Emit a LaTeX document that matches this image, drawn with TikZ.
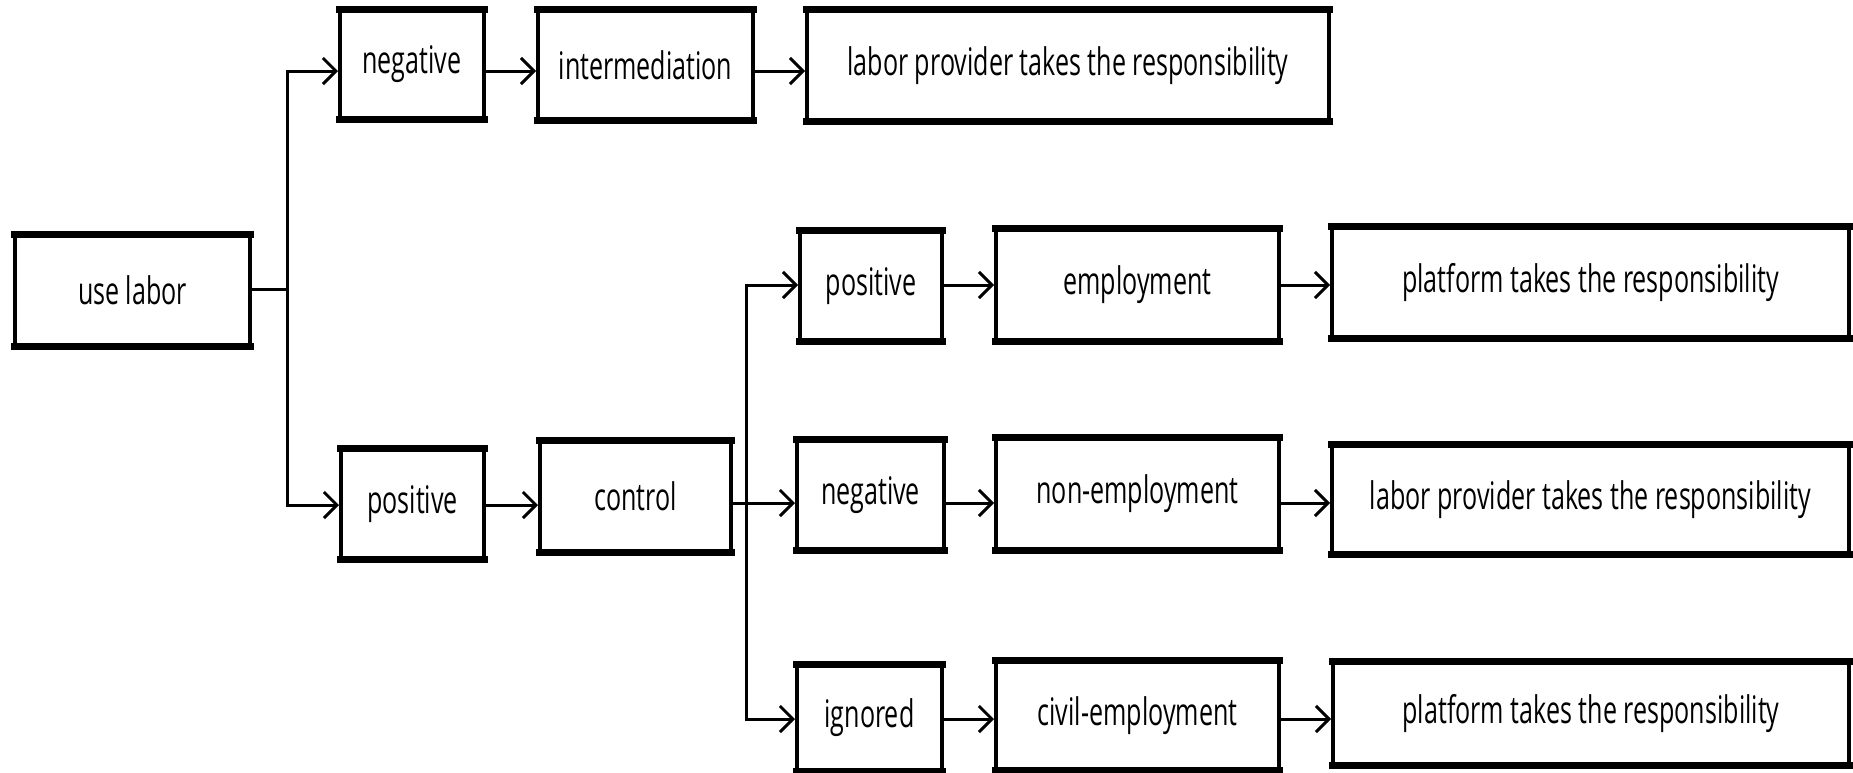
\documentclass[tikz,border=0pt]{standalone}
\usepackage{fontspec}
\setmainfont{Open Sans}[FakeStretch=0.66]
\usetikzlibrary{arrows.meta}
\begin{document}
\begin{tikzpicture}[x=1pt,y=-1pt,
  box/.style={draw, line width=4pt, inner sep=0pt, font=\fontsize{38pt}{45pt}\selectfont},
  conn/.style={line width=3pt},
  arr/.style={conn, -{Straight Barb[length=13pt,width=26pt,line width=3pt]}}]
\fill[white] (0,0) rectangle (1853,772);
\useasboundingbox (0,0) rectangle (1853,772);
% boxes
\node[box, minimum width=235pt, minimum height=111pt] (use) at (132.5,290.5) {use labor};
\node[box, minimum width=144pt, minimum height=109pt] (neg1) at (412,64.5) {negative};
\node[box, minimum width=215pt, minimum height=110pt] (inter) at (645.5,65) {intermediation};
\node[box, minimum width=522pt, minimum height=111pt] (lab1) at (1068,65.5) {labor provider takes the responsibility};
\node[box, minimum width=143pt, minimum height=110pt] (pos1) at (412.5,504) {positive};
\node[box, minimum width=191pt, minimum height=111pt] (ctrl) at (635.5,496.5) {control};
\node[box, minimum width=142pt, minimum height=110pt] (pos2) at (871,286) {positive};
\node[box, minimum width=283pt, minimum height=112pt] (emp) at (1137.5,285) {employment};
\node[box, minimum width=517pt, minimum height=111pt] (plat2) at (1590.5,282.5) {platform takes the responsibility};
\node[box, minimum width=147pt, minimum height=110pt] (neg2) at (870.5,495) {negative};
\node[box, minimum width=283pt, minimum height=112pt] (nonemp) at (1137.5,494) {non-employment};
\node[box, minimum width=517pt, minimum height=109pt] (lab3) at (1590.5,499.5) {labor provider takes the responsibility};
\node[box, minimum width=145pt, minimum height=106pt] (ign) at (869.5,718) {ignored};
\node[box, minimum width=283pt, minimum height=109pt] (civ) at (1137.5,715.5) {civil-employment};
\node[box, minimum width=516pt, minimum height=103pt] (plat4) at (1591,713.5) {platform takes the responsibility};
% thicker top and bottom edges
\foreach \n in {use,neg1,inter,lab1,pos1,ctrl,pos2,emp,plat2,neg2,nonemp,lab3,ign,civ,plat4}{
  \draw[line width=7pt] ([xshift=-2pt,yshift=-1.5pt]\n.north west) -- ([xshift=2pt,yshift=-1.5pt]\n.north east);
  \draw[line width=7pt] ([xshift=-2pt,yshift=1.5pt]\n.south west) -- ([xshift=2pt,yshift=1.5pt]\n.south east);
}
% levels
\coordinate (r1) at (0,71);
\coordinate (ru) at (0,289);
\coordinate (rp) at (0,505);
\coordinate (r2) at (0,285);
\coordinate (r3) at (0,503);
\coordinate (r4) at (0,719);
\coordinate (b1) at (287,0);
\coordinate (b2) at (746,0);
% connectors
\draw[conn] (use.east |- ru) -- (b1 |- ru);
\draw[arr] (b1 |- ru) -- (b1 |- r1) -- (neg1.west |- r1);
\draw[arr] (b1 |- ru) -- (b1 |- rp) -- (pos1.west |- rp);
\draw[arr] (neg1.east |- r1) -- (inter.west |- r1);
\draw[arr] (inter.east |- r1) -- (lab1.west |- r1);
\draw[arr] (pos1.east |- rp) -- (ctrl.west |- rp);
\draw[arr] (ctrl.east |- r3) -- (neg2.west |- r3);
\draw[arr] (b2 |- r3) -- (b2 |- r2) -- (pos2.west |- r2);
\draw[arr] (b2 |- r3) -- (b2 |- r4) -- (ign.west |- r4);
\draw[arr] (pos2.east |- r2) -- (emp.west |- r2);
\draw[arr] (emp.east |- r2) -- (plat2.west |- r2);
\draw[arr] (neg2.east |- r3) -- (nonemp.west |- r3);
\draw[arr] (nonemp.east |- r3) -- (lab3.west |- r3);
\draw[arr] (ign.east |- r4) -- (civ.west |- r4);
\draw[arr] (civ.east |- r4) -- (plat4.west |- r4);
\end{tikzpicture}
\end{document}
